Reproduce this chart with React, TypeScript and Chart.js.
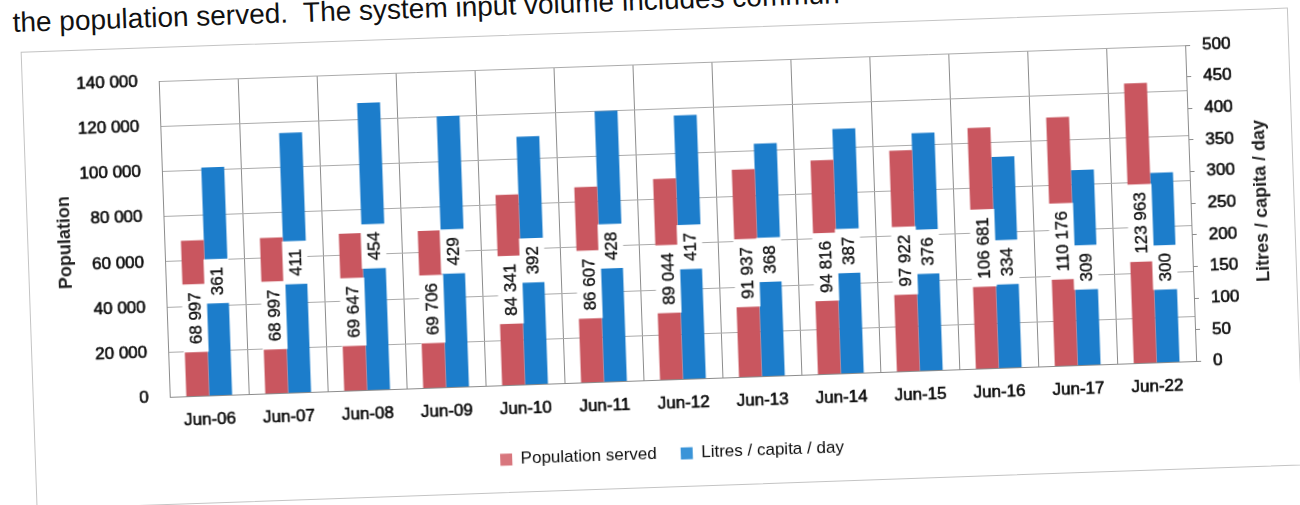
import React, { useEffect, useRef } from "react";
import { Chart, registerables } from "chart.js";

Chart.register(...registerables);

// ---- data ----
const categories = [
  "Jun-06", "Jun-07", "Jun-08", "Jun-09", "Jun-10", "Jun-11", "Jun-12",
  "Jun-13", "Jun-14", "Jun-15", "Jun-16", "Jun-17", "Jun-22",
];
const populationServed = [
  68997, 68997, 69647, 69706, 84341, 86607, 89044, 91937, 94816, 97922, 106681, 110176, 123963,
];
const litresPerCapitaDay = [361, 411, 454, 429, 392, 428, 417, 368, 387, 376, 334, 309, 300];

const populationAxis = { min: 0, max: 140000, step: 20000, title: "Population" };
const litresAxis = { min: 0, max: 500, step: 50, title: "Litres / capita / day" };
const seriesNames = ["Population served", "Litres / capita / day"];
const pageText = "the population served.\u00a0 The system input volume includes commun";

const FONT = '"Liberation Sans", Arial, Helvetica, sans-serif';
const RED = "#C9565F";
const BLUE = "#1C7DCB";
const RED_LEGEND = "#D8767D";
const BLUE_LEGEND = "#3A94D8";

const fmt = (v: number) => String(Math.round(v)).replace(/\B(?=(\d{3})+(?!\d))/g, " ");

const valueLabelPlugin = {
  id: "valueLabels",
  afterDatasetsDraw(chart: any) {
    const ctx = chart.ctx as CanvasRenderingContext2D;
    chart.data.datasets.forEach((ds: any, di: number) => {
      const meta = chart.getDatasetMeta(di);
      meta.data.forEach((bar: any, i: number) => {
        const v = ds.data[i] as number;
        const text = fmt(v);
        const { x, y, base, width } = bar.getProps(["x", "y", "base", "width"], true);
        const cy = (y + base) / 2;
        ctx.save();
        ctx.font = `17px ${FONT}`;
        const tw = ctx.measureText(text).width;
        const boxLen = tw + 16;
        const boxW = width + 2;
        ctx.fillStyle = "#ffffff";
        ctx.fillRect(x - boxW / 2, cy - boxLen / 2, boxW, boxLen);
        ctx.translate(x, cy);
        ctx.rotate(-Math.PI / 2);
        ctx.fillStyle = "#151515";
        ctx.strokeStyle = "#151515";
        ctx.lineWidth = 0.4;
        ctx.textAlign = "center";
        ctx.textBaseline = "middle";
        ctx.fillText(text, 0, 1);
        ctx.strokeText(text, 0, 1);
        ctx.restore();
      });
    });
  },
};

const axisTitlePlugin = {
  id: "axisTitles",
  afterDraw(chart: any) {
    const ctx = chart.ctx as CanvasRenderingContext2D;
    const { left, right, top, bottom } = chart.chartArea;
    const mid = (top + bottom) / 2;
    const draw = (text: string, x: number) => {
      ctx.save();
      ctx.font = `bold 18px ${FONT}`;
      ctx.fillStyle = "#222";
      ctx.translate(x, mid);
      ctx.rotate(-Math.PI / 2);
      ctx.textAlign = "center";
      ctx.textBaseline = "middle";
      ctx.fillText(text, 0, 0);
      ctx.restore();
    };
    draw(populationAxis.title, left - 99);
    draw(litresAxis.title, right + 71);
  },
};

export default function App() {
  const canvasRef = useRef<HTMLCanvasElement | null>(null);

  useEffect(() => {
    if (!canvasRef.current) return;
    const tickFont = { family: FONT, size: 17 };
    const chart = new Chart(canvasRef.current, {
      type: "bar",
      data: {
        labels: categories,
        datasets: [
          {
            label: seriesNames[0],
            data: populationServed,
            backgroundColor: RED,
            yAxisID: "yPop",
            categoryPercentage: 0.58,
            barPercentage: 1,
          },
          {
            label: seriesNames[1],
            data: litresPerCapitaDay,
            backgroundColor: BLUE,
            yAxisID: "yLit",
            categoryPercentage: 0.58,
            barPercentage: 1,
          },
        ],
      },
      options: {
        responsive: false,
        animation: false,
        devicePixelRatio: 1,
        layout: { padding: { left: 30, right: 0, top: 64, bottom: 32 } },
        plugins: {
          tooltip: { enabled: false },
          legend: {
            position: "bottom",
            labels: {
              font: { family: FONT, size: 17 },
              color: "#0d0d0d",
              boxWidth: 12,
              boxHeight: 12,
              padding: 24,
              generateLabels: (c: any) => {
                const items = Chart.defaults.plugins.legend.labels.generateLabels(c);
                return items.map((it: any, idx: number) => ({
                  ...it,
                  fillStyle: idx === 0 ? RED_LEGEND : BLUE_LEGEND,
                  strokeStyle: idx === 0 ? RED_LEGEND : BLUE_LEGEND,
                  lineWidth: 0,
                }));
              },
            },
          },
        },
        scales: {
          x: {
            grid: { offset: true, color: "#8c8c8c", drawTicks: false },
            border: { color: "#8c8c8c" },
            ticks: {
              font: tickFont,
              color: "#0d0d0d",
              textStrokeColor: "#0d0d0d",
              textStrokeWidth: 0.6,
              padding: 14,
              maxRotation: 0,
              autoSkip: false,
            },
            afterFit: (s: any) => {
              s.height = 41.5;
            },
          },
          yPop: {
            type: "linear",
            position: "left",
            min: populationAxis.min,
            max: populationAxis.max,
            ticks: {
              stepSize: populationAxis.step,
              callback: (v: any) => fmt(Number(v)),
              font: tickFont,
              color: "#0d0d0d",
              textStrokeColor: "#0d0d0d",
              textStrokeWidth: 0.6,
              padding: 21,
            },
            grid: { color: "#ababab", drawTicks: false },
            border: { color: "#8c8c8c" },
            afterFit: (s: any) => {
              s.width = 135;
            },
          },
          yLit: {
            type: "linear",
            position: "right",
            min: litresAxis.min,
            max: litresAxis.max,
            ticks: {
              stepSize: litresAxis.step,
              font: tickFont,
              color: "#0d0d0d",
              textStrokeColor: "#0d0d0d",
              textStrokeWidth: 0.6,
              padding: 12,
            },
            grid: { drawOnChartArea: false, drawTicks: true, tickLength: 5, color: "#8c8c8c" },
            border: { color: "#8c8c8c" },
            afterFit: (s: any) => {
              s.width = 108;
            },
          },
        },
      },
      plugins: [valueLabelPlugin, axisTitlePlugin],
    } as any);
    return () => chart.destroy();
  }, []);

  return (
    <div
      style={{
        position: "fixed",
        left: 0,
        top: 0,
        width: 1300,
        height: 505,
        overflow: "hidden",
        background: "#fff",
      }}
    >
      <div
        style={{
          position: "absolute",
          left: 0,
          top: 0,
          width: 1300,
          height: 505,
          transform: "rotate(-2deg)",
          transformOrigin: "650px 252px",
        }}
      >
        <div
          style={{
            position: "absolute",
            left: 21,
            top: -15,
            font: `28px ${FONT}`,
            lineHeight: "32px",
            whiteSpace: "nowrap",
            color: "#111",
          }}
        >
          {pageText}
        </div>
        <div
          style={{
            position: "absolute",
            left: 28,
            top: 30,
            width: 1268,
            height: 458,
            border: "1px solid #c4c4c4",
            boxSizing: "border-box",
          }}
        />
        <canvas
          ref={canvasRef}
          width={1300}
          height={505}
          style={{ position: "absolute", left: 0, top: 0, width: 1300, height: 505 }}
        />
      </div>
    </div>
  );
}
